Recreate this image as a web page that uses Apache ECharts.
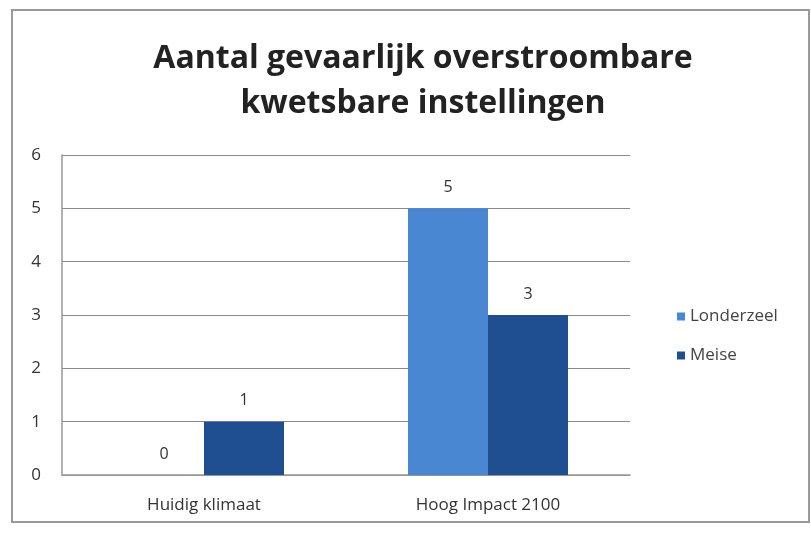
<!DOCTYPE html>
<html>
<head>
<meta charset="utf-8">
<script src="https://cdn.jsdelivr.net/npm/echarts@6/dist/echarts.min.js"></script>
<style>
  html, body { margin: 0; padding: 0; background: #fff; }
  #chart { width: 811px; height: 533px; }
</style>
</head>
<body>
<div id="chart"></div>
<script>
const categories = ["Huidig klimaat", "Hoog Impact 2100"];
const londerzeel = [0, 5];
const meise = [1, 3];
const seriesNames = ["Londerzeel", "Meise"];

const chart = echarts.init(document.getElementById("chart"));

const labelStyle = {
  show: true,
  position: "top",
  distance: 13,
  color: "#333",
  fontSize: 16,
  fontFamily: "Open Sans"
};

chart.setOption({
  animation: false,
  title: {
    text: "Aantal gevaarlijk overstroombare\nkwetsbare instellingen",
    left: 418,
    textAlign: "center",
    top: 31,
    textStyle: {
      fontFamily: "Open Sans",
      fontWeight: "bold",
      fontSize: 32,
      lineHeight: 45,
      color: "#222"
    }
  },
  graphic: [
    {
      type: "rect",
      shape: { x: 12, y: 10, width: 797, height: 512 },
      style: { fill: "none", stroke: "#9a9a9a", lineWidth: 2 },
      silent: true
    }
  ],
  legend: {
    orient: "vertical",
    left: 672,
    top: 303,
    itemWidth: 8,
    itemHeight: 8,
    itemGap: 22,
    icon: "rect",
    textStyle: { fontFamily: "Open Sans", fontSize: 17, color: "#444" },
    data: seriesNames
  },
  grid: {
    left: 62,
    right: 181,
    top: 155,
    bottom: 58,
    containLabel: false
  },
  xAxis: {
    type: "category",
    data: categories,
    axisLine: { lineStyle: { color: "#999", width: 1.5 } },
    axisTick: { show: false },
    axisLabel: {
      color: "#333",
      fontSize: 17,
      fontFamily: "Open Sans",
      margin: 22
    }
  },
  yAxis: {
    type: "value",
    min: 0,
    max: 6,
    interval: 1,
    axisLine: { show: true, lineStyle: { color: "#999", width: 1.5 } },
    axisTick: { show: false },
    axisLabel: {
      color: "#333",
      fontSize: 17,
      fontFamily: "Open Sans",
      margin: 21
    },
    splitLine: { lineStyle: { color: "#8a8a8a", width: 1 } }
  },
  series: [
    {
      name: seriesNames[0],
      type: "bar",
      data: londerzeel,
      barWidth: 80,
      barGap: "0%",
      itemStyle: { color: "#4a87d2" },
      label: labelStyle
    },
    {
      name: seriesNames[1],
      type: "bar",
      data: meise,
      barWidth: 80,
      barGap: "0%",
      itemStyle: { color: "#1f4f91" },
      label: labelStyle
    }
  ]
});
</script>
</body>
</html>
